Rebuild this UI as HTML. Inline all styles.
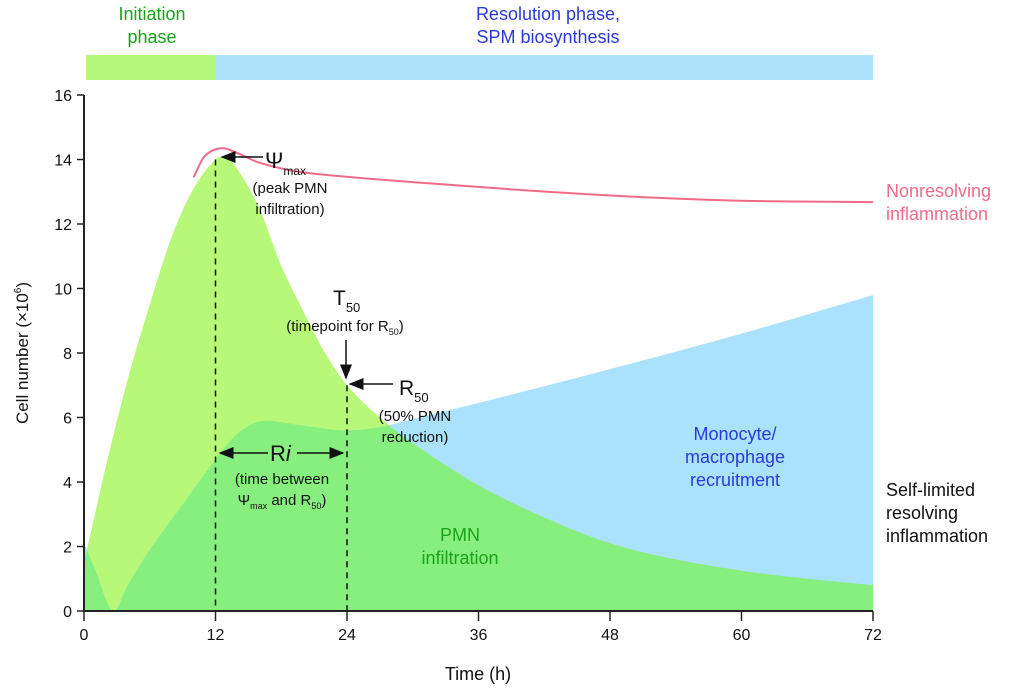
<!DOCTYPE html>
<html><head><meta charset="utf-8"><style>
body{margin:0;background:#fff;}
svg{display:block;font-family:"Liberation Sans",Arial,sans-serif;}
</style></head><body>
<svg id="chart" width="1024" height="688" viewBox="0 0 1024 688">
<defs><marker id="ah" markerWidth="10" markerHeight="8" refX="9" refY="4" orient="auto"><path d="M0,0 L10,4 L0,8 Z" fill="#111"/></marker>
<clipPath id="pmnClip"><path id="pmnClipPath"/></clipPath>
<clipPath id="plotClip"><rect x="84" y="60" width="789" height="551"/></clipPath></defs>
<rect x="86" y="55" width="129" height="25" fill="#b5f77a"/>
<rect x="215" y="55" width="658" height="25" fill="#aee3fb"/>
<text x="152" y="20" text-anchor="middle" font-size="18" fill="#1aa31a"><tspan x="152">Initiation</tspan><tspan x="152" dy="23">phase</tspan></text>
<text x="548" y="20" text-anchor="middle" font-size="18" fill="#2a3ad8"><tspan x="548">Resolution phase,</tspan><tspan x="548" dy="23">SPM biosynthesis</tspan></text>
<g id="plot" clip-path="url(#plotClip)"></g>
<g id="lines"></g>
<g id="axes"></g>
<g font-size="15" fill="#111">
<line x1="263" y1="157" x2="222" y2="157" stroke="#111" stroke-width="1.5" marker-end="url(#ah)"/>
<text x="265" y="168" font-size="22">Ψ<tspan font-size="12" dy="7">max</tspan></text>
<text x="290" y="193" text-anchor="middle"><tspan x="290">(peak PMN</tspan><tspan x="290" dy="21">infiltration)</tspan></text>
<text x="333" y="305" font-size="21">T<tspan font-size="13" dy="7">50</tspan></text>
<text x="345" y="331" text-anchor="middle">(timepoint for R<tspan font-size="9" dy="4">50</tspan><tspan dy="-4">)</tspan></text>
<line x1="346" y1="340" x2="346" y2="378" stroke="#111" stroke-width="1.5" marker-end="url(#ah)"/>
<line x1="393" y1="384" x2="350" y2="384" stroke="#111" stroke-width="1.5" marker-end="url(#ah)"/>
<text x="399" y="395" font-size="21">R<tspan font-size="13" dy="7">50</tspan></text>
<text x="415" y="421" text-anchor="middle"><tspan x="415">(50% PMN</tspan><tspan x="415" dy="21">reduction)</tspan></text>
<line x1="268" y1="453" x2="220" y2="453" stroke="#111" stroke-width="1.5" marker-end="url(#ah)"/>
<line x1="297" y1="453" x2="343" y2="453" stroke="#111" stroke-width="1.5" marker-end="url(#ah)"/>
<text x="270" y="461" font-size="22">R<tspan font-style="italic">i</tspan></text>
<text x="282" y="484" text-anchor="middle">(time between</text>
<text x="282" y="505" text-anchor="middle">Ψ<tspan font-size="9" dy="4">max</tspan><tspan dy="-4"> and R</tspan><tspan font-size="9" dy="4">50</tspan><tspan dy="-4">)</tspan></text>
</g>
<text x="460" y="541" text-anchor="middle" font-size="18" fill="#1aa31a"><tspan x="460">PMN</tspan><tspan x="460" dy="23">infiltration</tspan></text>
<text x="735" y="440" text-anchor="middle" font-size="18" fill="#2a3ad8"><tspan x="735">Monocyte/</tspan><tspan x="735" dy="23">macrophage</tspan><tspan x="735" dy="23">recruitment</tspan></text>
<text x="886" y="197" font-size="18" fill="#f06b8a"><tspan x="886">Nonresolving</tspan><tspan x="886" dy="23">inflammation</tspan></text>
<text x="886" y="496" font-size="18" fill="#111"><tspan x="886">Self-limited</tspan><tspan x="886" dy="23">resolving</tspan><tspan x="886" dy="23">inflammation</tspan></text>
<text x="478" y="680" text-anchor="middle" font-size="18" fill="#111">Time (h)</text>
<text transform="translate(28,353) rotate(-90)" text-anchor="middle" font-size="17" fill="#111">Cell number (×10<tspan font-size="10" dy="-7">6</tspan><tspan dy="7">)</tspan></text>
</svg>
<script>
const pmnHours=[0,1,2,4,6,8,10,12,13,14,16,17,18,20,22,24,27,30,36,42,48,54,60,66,72];
const pmnValues=[1.5,3.0,4.5,7.2,9.5,11.6,13.1,14.0,14.05,13.7,12.5,11.6,10.7,9.3,8.0,7.0,6.0,5.2,3.9,2.9,2.1,1.6,1.25,1.0,0.8];
const monoHours=[0,1,2.7,4,6,9,12,14,16.5,20,24,27,30,36,48,60,72];
const monoValues=[2.1,1.3,0,0.8,1.9,3.3,4.7,5.5,5.9,5.75,5.6,5.7,5.95,6.45,7.5,8.6,9.8];
const nonresHours=[10,11,12.5,14,16,20,30,40,50,60,72];
const nonresValues=[13.45,14.1,14.35,14.2,13.9,13.6,13.3,13.05,12.85,12.72,12.68];
const xTicks=[0,12,24,36,48,60,72];
const yTicks=[0,2,4,6,8,10,12,14,16];
const markerHours=[12,24];
const NS="http://www.w3.org/2000/svg";
const X=h=>84+h*(873-84)/72;
const Y=v=>611-v*(611-95)/16;
function monoPath(xs,ys){const n=xs.length,d=[],m=[];
for(let i=0;i<n-1;i++)d.push((ys[i+1]-ys[i])/(xs[i+1]-xs[i]));
m[0]=d[0];m[n-1]=d[n-2];
for(let i=1;i<n-1;i++){m[i]=(d[i-1]*d[i]<=0)?0:(d[i-1]+d[i])/2;}
for(let i=0;i<n-1;i++){if(d[i]===0){m[i]=m[i+1]=0;continue;}const a=m[i]/d[i],b=m[i+1]/d[i],s=a*a+b*b;if(s>9){const t=3/Math.sqrt(s);m[i]=t*a*d[i];m[i+1]=t*b*d[i];}}
return build(xs,ys,m);}
function crPath(xs,ys){const n=xs.length,m=[];
for(let i=0;i<n;i++){const a=Math.max(0,i-1),b=Math.min(n-1,i+1);m[i]=(ys[b]-ys[a])/(xs[b]-xs[a]);}
return build(xs,ys,m);}
function build(xs,ys,m){const n=xs.length;let p="M"+X(xs[0])+","+Y(ys[0]);
for(let i=0;i<n-1;i++){const h=xs[i+1]-xs[i];
p+=" C"+X(xs[i]+h/3)+","+Y(ys[i]+m[i]*h/3)+" "+X(xs[i+1]-h/3)+","+Y(ys[i+1]-m[i+1]*h/3)+" "+X(xs[i+1])+","+Y(ys[i+1]);}
return p;}
function area(p,xs){return p+" L"+X(xs[xs.length-1])+","+Y(0)+" L"+X(xs[0])+","+Y(0)+" Z";}
const plot=document.getElementById('plot');
const lines=document.getElementById('lines');
function mk(tag,attrs,parent){const e=document.createElementNS(NS,tag);for(const k in attrs)e.setAttribute(k,attrs[k]);parent.appendChild(e);return e;}
const pa=area(crPath(pmnHours,pmnValues),pmnHours),ma=area(monoPath(monoHours,monoValues),monoHours);
document.getElementById('pmnClipPath').setAttribute('d',pa);
const e1=mk('path',{d:pa,fill:'#b8f878'},plot);


const e2=mk('path',{d:ma,fill:'#aae2fb'},plot);


const e3=mk('path',{d:ma,fill:'#86ef7e','clip-path':'url(#pmnClip)'},plot);


const e4=mk('path',{d:crPath(nonresHours,nonresValues),fill:'none',stroke:'#f06b8a','stroke-width':2},lines);


markerHours.forEach(h=>{let v=0;for(let i=0;i<pmnHours.length;i++)if(pmnHours[i]===h)v=pmnValues[i];
const l=mk('line',{x1:X(h),x2:X(h),y1:Y(v),y2:Y(0),stroke:'#111','stroke-width':1.5,'stroke-dasharray':'6,5'},lines);

});
const ax=document.getElementById('axes');
const xl=mk('line',{x1:84,x2:873,y1:611,y2:611,stroke:'#222','stroke-width':2},ax);


const yl=mk('line',{x1:84,x2:84,y1:95,y2:611,stroke:'#222','stroke-width':2},ax);


xTicks.forEach(t=>{mk('line',{x1:X(t),x2:X(t),y1:611,y2:621,stroke:'#222','stroke-width':1.5},ax);
const tx=mk('text',{x:X(t),y:640,'text-anchor':'middle','font-size':16,fill:'#111'},ax);tx.textContent=t;

});
yTicks.forEach(t=>{mk('line',{x1:77,x2:84,y1:Y(t),y2:Y(t),stroke:'#222','stroke-width':1.5},ax);
const tx=mk('text',{x:72,y:Y(t)+6,'text-anchor':'end','font-size':16,fill:'#111'},ax);tx.textContent=t;

});
</script>
</body></html>
